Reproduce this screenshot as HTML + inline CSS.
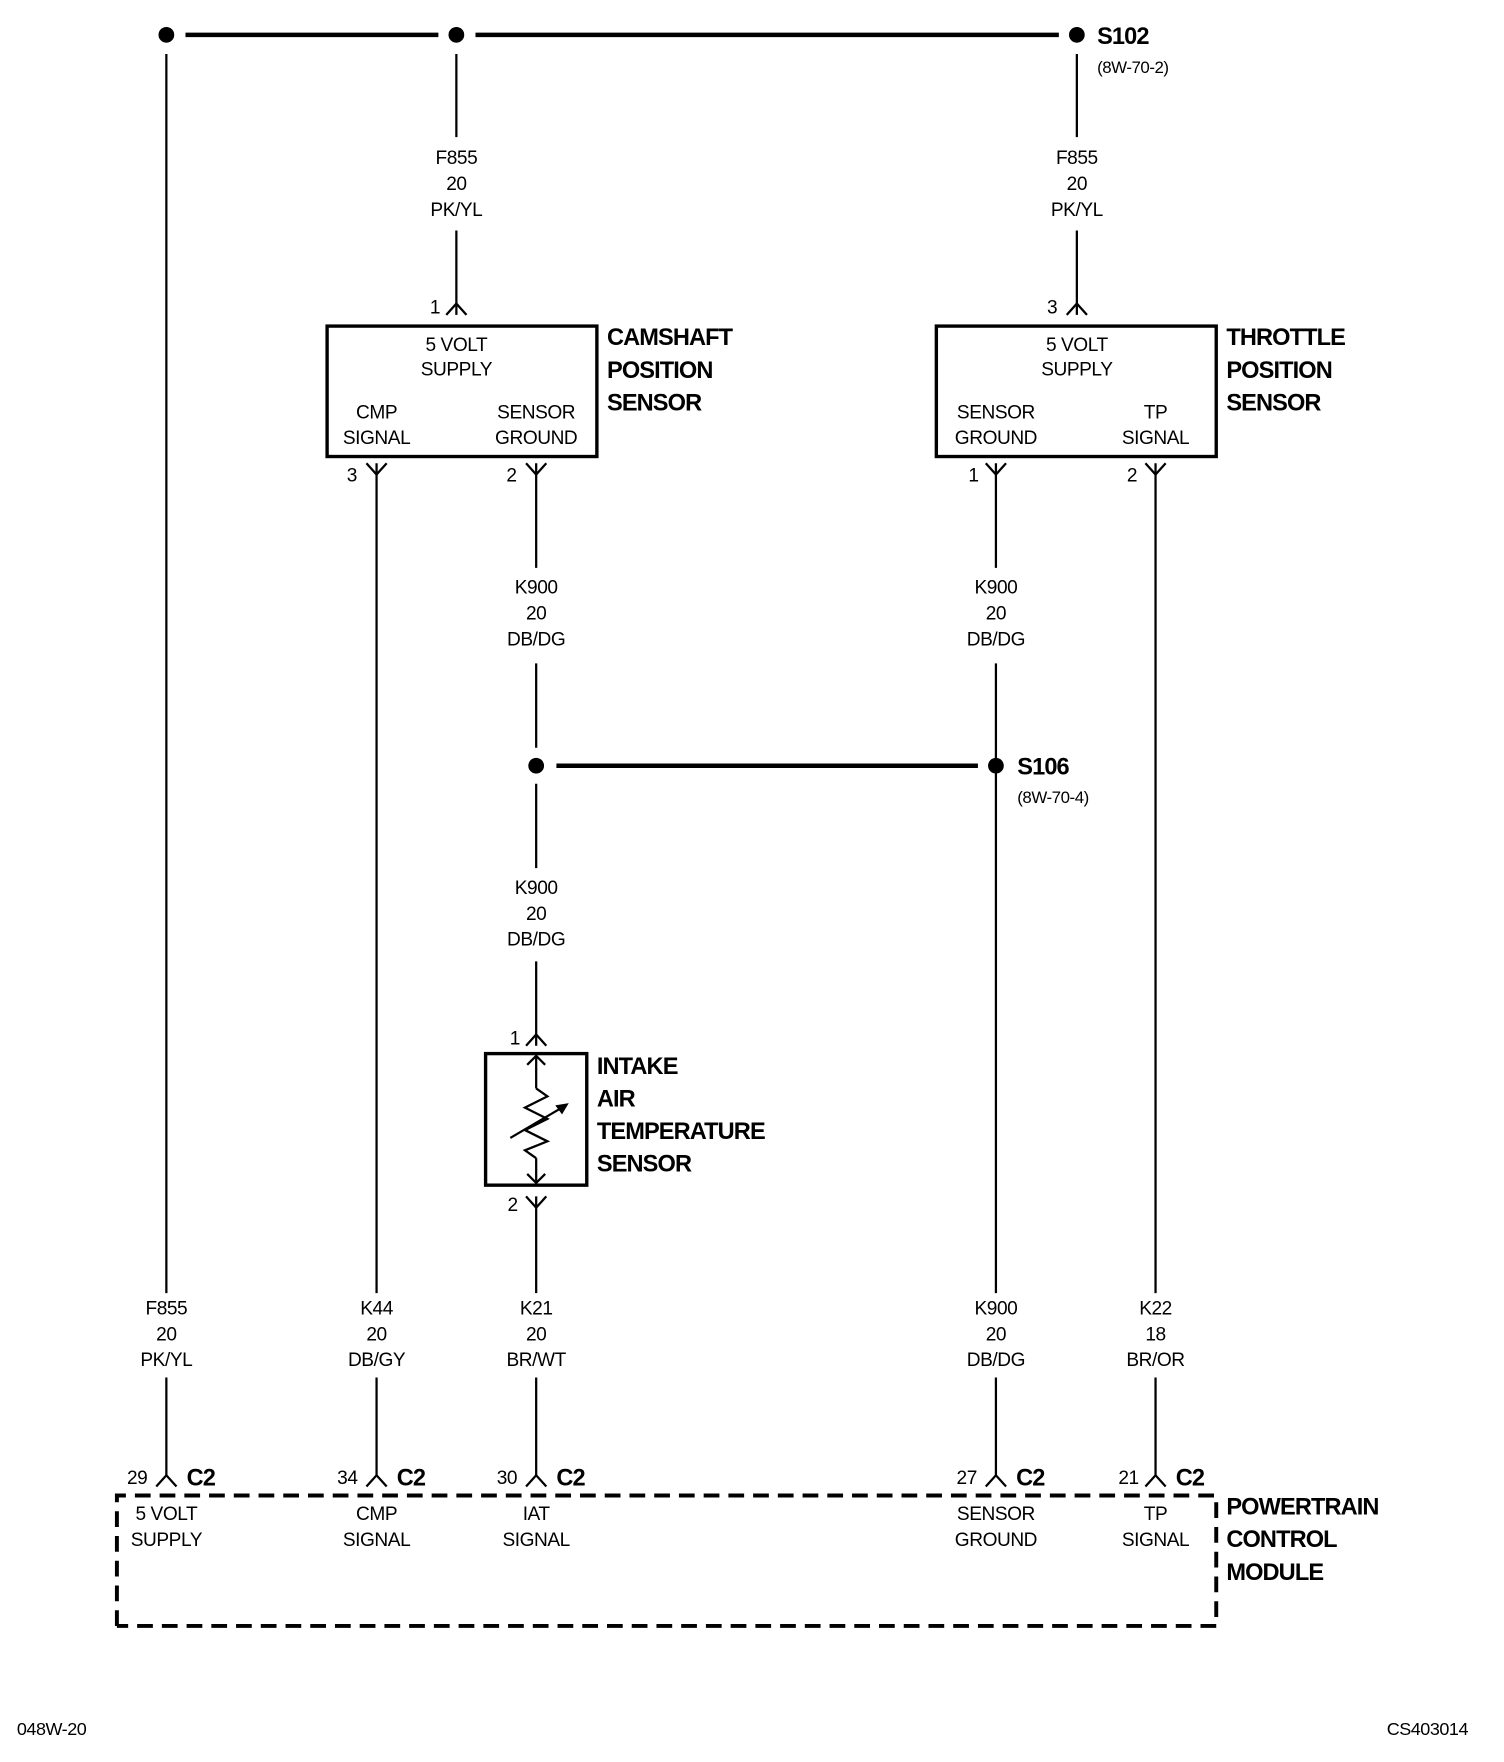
<!DOCTYPE html>
<html><head><meta charset="utf-8"><style>
html,body{margin:0;padding:0;background:#fff}
svg{display:block}
text{font-family:"Liberation Sans Narrow","Liberation Sans",sans-serif;fill:#000}
.t{font-size:17px;text-anchor:middle;letter-spacing:-0.4px}
.b{font-size:21px;font-weight:bold;letter-spacing:-0.8px}
</style></head><body>
<svg width="1504" height="1762" viewBox="0 0 1338 1567" preserveAspectRatio="none" xmlns="http://www.w3.org/2000/svg">
<g stroke="#000" fill="none" stroke-width="2">
<line x1="165" y1="31" x2="390" y2="31" stroke-width="4"/>
<line x1="423" y1="31" x2="942" y2="31" stroke-width="4"/>
<line x1="148" y1="48" x2="148" y2="1150"/>
<line x1="148" y1="1225" x2="148" y2="1312"/>
<line x1="406" y1="48" x2="406" y2="122"/>
<line x1="406" y1="205" x2="406" y2="280"/>
<line x1="958" y1="48" x2="958" y2="122"/>
<line x1="958" y1="205" x2="958" y2="280"/>
<line x1="335" y1="412" x2="335" y2="1150"/>
<line x1="335" y1="1225" x2="335" y2="1312"/>
<line x1="477" y1="412" x2="477" y2="505"/>
<line x1="477" y1="590" x2="477" y2="665"/>
<line x1="477" y1="697" x2="477" y2="772"/>
<line x1="477" y1="855" x2="477" y2="930"/>
<line x1="477" y1="1064" x2="477" y2="1150"/>
<line x1="477" y1="1225" x2="477" y2="1312"/>
<line x1="886" y1="412" x2="886" y2="505"/>
<line x1="886" y1="590" x2="886" y2="1150"/>
<line x1="886" y1="1225" x2="886" y2="1312"/>
<line x1="1028" y1="412" x2="1028" y2="1150"/>
<line x1="1028" y1="1225" x2="1028" y2="1312"/>
<line x1="495" y1="681" x2="870" y2="681" stroke-width="4"/>
<polyline points="397,280 406,270 415,280"/>
<polyline points="949,280 958,270 967,280"/>
<polyline points="468,930 477,920 486,930"/>
<polyline points="326,412 335,422 344,412"/>
<polyline points="468,412 477,422 486,412"/>
<polyline points="877,412 886,422 895,412"/>
<polyline points="1019,412 1028,422 1037,412"/>
<polyline points="468,1064 477,1074 486,1064"/>
<polyline points="139,1322 148,1312 157,1322"/>
<polyline points="326,1322 335,1312 344,1322"/>
<polyline points="468,1322 477,1312 486,1322"/>
<polyline points="877,1322 886,1312 895,1322"/>
<polyline points="1019,1322 1028,1312 1037,1322"/>
<rect x="291" y="290" width="240" height="116" stroke-width="3"/>
<rect x="833" y="290" width="249" height="116" stroke-width="3"/>
<rect x="432" y="937" width="90" height="117" stroke-width="3"/>
<line x1="477" y1="940" x2="477" y2="968"/>
<line x1="477" y1="1030" x2="477" y2="1052"/>
<polyline points="469,947 477,939 485,947"/>
<polyline points="469,1044 477,1052 485,1044"/>
<polyline points="477,968 487,975 467,985 487,995 467,1005 487,1015 467,1023 477,1030"/>
<line x1="454" y1="1012" x2="500" y2="985"/>
<path d="M104 1446 V1330 H1082 V1446 H104" stroke-width="3.5" stroke-dasharray="14 8"/>
</g>
<polygon points="506,981 494,983 500,991" fill="#000"/>
<g fill="#000">
<circle cx="148" cy="31" r="7"/><circle cx="406" cy="31" r="7"/><circle cx="958" cy="31" r="7"/>
<circle cx="477" cy="681" r="7"/><circle cx="886" cy="681" r="7"/>
</g>
<text class="b" x="976" y="39">S102</text>
<text style="font-size:15px;letter-spacing:-0.4px" x="976" y="65">(8W-70-2)</text>
<text class="b" x="905" y="689">S106</text>
<text style="font-size:15px;letter-spacing:-0.4px" x="905" y="714">(8W-70-4)</text>
<text class="t" x="406" y="146">F855</text><text class="t" x="406" y="169">20</text><text class="t" x="406" y="192">PK/YL</text>
<text class="t" x="958" y="146">F855</text><text class="t" x="958" y="169">20</text><text class="t" x="958" y="192">PK/YL</text>
<text class="t" x="477" y="528">K900</text><text class="t" x="477" y="551">20</text><text class="t" x="477" y="574">DB/DG</text>
<text class="t" x="886" y="528">K900</text><text class="t" x="886" y="551">20</text><text class="t" x="886" y="574">DB/DG</text>
<text class="t" x="477" y="795">K900</text><text class="t" x="477" y="818">20</text><text class="t" x="477" y="841">DB/DG</text>
<text class="t" x="148" y="1169">F855</text><text class="t" x="148" y="1192">20</text><text class="t" x="148" y="1215">PK/YL</text>
<text class="t" x="335" y="1169">K44</text><text class="t" x="335" y="1192">20</text><text class="t" x="335" y="1215">DB/GY</text>
<text class="t" x="477" y="1169">K21</text><text class="t" x="477" y="1192">20</text><text class="t" x="477" y="1215">BR/WT</text>
<text class="t" x="886" y="1169">K900</text><text class="t" x="886" y="1192">20</text><text class="t" x="886" y="1215">DB/DG</text>
<text class="t" x="1028" y="1169">K22</text><text class="t" x="1028" y="1192">18</text><text class="t" x="1028" y="1215">BR/OR</text>
<text class="t" x="406" y="312">5 VOLT</text><text class="t" x="406" y="334">SUPPLY</text>
<text class="t" x="335" y="372">CMP</text><text class="t" x="335" y="395">SIGNAL</text>
<text class="t" x="477" y="372">SENSOR</text><text class="t" x="477" y="395">GROUND</text>
<text class="t" x="958" y="312">5 VOLT</text><text class="t" x="958" y="334">SUPPLY</text>
<text class="t" x="886" y="372">SENSOR</text><text class="t" x="886" y="395">GROUND</text>
<text class="t" x="1028" y="372">TP</text><text class="t" x="1028" y="395">SIGNAL</text>
<text class="t" x="148" y="1352">5 VOLT</text><text class="t" x="148" y="1375">SUPPLY</text>
<text class="t" x="335" y="1352">CMP</text><text class="t" x="335" y="1375">SIGNAL</text>
<text class="t" x="477" y="1352">IAT</text><text class="t" x="477" y="1375">SIGNAL</text>
<text class="t" x="886" y="1352">SENSOR</text><text class="t" x="886" y="1375">GROUND</text>
<text class="t" x="1028" y="1352">TP</text><text class="t" x="1028" y="1375">SIGNAL</text>
<text class="t" x="387" y="279">1</text><text class="t" x="936" y="279">3</text>
<text class="t" x="313" y="428">3</text><text class="t" x="455" y="428">2</text>
<text class="t" x="866" y="428">1</text><text class="t" x="1007" y="428">2</text>
<text class="t" x="458" y="929">1</text><text class="t" x="456" y="1077">2</text>
<text class="t" x="122" y="1320">29</text><text class="t" x="309" y="1320">34</text><text class="t" x="451" y="1320">30</text>
<text class="t" x="860" y="1320">27</text><text class="t" x="1004" y="1320">21</text>
<text class="b" x="166" y="1321">C2</text><text class="b" x="353" y="1321">C2</text><text class="b" x="495" y="1321">C2</text>
<text class="b" x="904" y="1321">C2</text><text class="b" x="1046" y="1321">C2</text>
<text class="b" x="540" y="307">CAMSHAFT</text><text class="b" x="540" y="336">POSITION</text><text class="b" x="540" y="365">SENSOR</text>
<text class="b" x="1091" y="307">THROTTLE</text><text class="b" x="1091" y="336">POSITION</text><text class="b" x="1091" y="365">SENSOR</text>
<text class="b" x="531" y="955">INTAKE</text><text class="b" x="531" y="984">AIR</text><text class="b" x="531" y="1013">TEMPERATURE</text><text class="b" x="531" y="1042">SENSOR</text>
<text class="b" x="1091" y="1347">POWERTRAIN</text><text class="b" x="1091" y="1376">CONTROL</text><text class="b" x="1091" y="1405">MODULE</text>
<text style="font-size:16px;letter-spacing:-0.4px" x="15" y="1543">048W-20</text>
<text style="font-size:16px;text-anchor:end;letter-spacing:-0.4px" x="1306" y="1543">CS403014</text>
</svg>
</body></html>
